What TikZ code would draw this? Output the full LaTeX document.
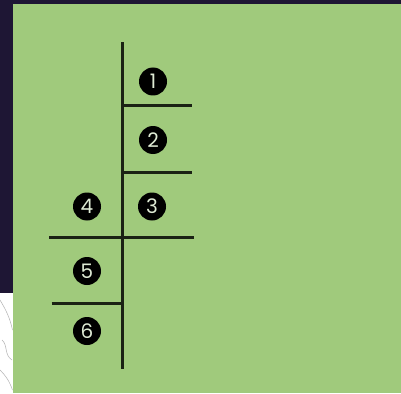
\documentclass[tikz,border=0pt]{standalone}
\usepackage{fontspec}
\setmainfont{Poppins}
\definecolor{bggreen}{RGB}{160,202,124}
\definecolor{frame}{RGB}{30,22,52}
\definecolor{ink}{RGB}{26,34,20}
\definecolor{digit}{RGB}{222,234,212}
\tikzset{
  rule/.style={draw=ink, line width=3pt, line cap=butt},
  num/.style={circle, fill=black, minimum size=28pt, inner sep=0pt,
    text=digit, font=\fontsize{20}{20}\selectfont},
}
\begin{document}
\begin{tikzpicture}[x=1pt,y=-1pt]
\useasboundingbox (0,0) rectangle (401,393);
% frame and background
\fill[frame] (0,0) rectangle (401,393);
\fill[white] (0,293) rectangle (12.5,393);
\draw[gray!60, line width=0.5pt] (0,300) .. controls (6,310) and (10,318) .. (12.5,330);
\draw[gray!60, line width=0.5pt] (2,340) .. controls (8,345) and (4,355) .. (12,360);
\draw[gray!60, line width=0.5pt] (0,370) .. controls (5,375) and (9,380) .. (12.5,390);
\fill[bggreen] (12.5,4) rectangle (401,393);
% coordinates
\coordinate (vt) at (122,42.5);
\coordinate (vb) at (122,368.5);
\coordinate (h1a) at (122,106); \coordinate (h1b) at (192,106);
\coordinate (h2a) at (122,172); \coordinate (h2b) at (192,172);
\coordinate (h3a) at (49,237.5); \coordinate (h3b) at (194,237.5);
\coordinate (h4a) at (51.5,303); \coordinate (h4b) at (122,303);
\draw[rule] (vt) -- (vb);
\draw[rule] (h1a) -- (h1b);
\draw[rule] (h2a) -- (h2b);
\draw[rule] (h3a) -- (h3b);
\draw[rule] (h4a) -- (h4b);
% numbers
\node[num] (n1) at (153,81.5) {1};
\node[num] (n2) at (153,140) {2};
\node[num] (n3) at (152,206.5) {3};
\node[num] (n4) at (87,206.5) {4};
\node[num] (n5) at (87,271) {5};
\node[num] (n6) at (87,331) {6};
\end{tikzpicture}
\end{document}
